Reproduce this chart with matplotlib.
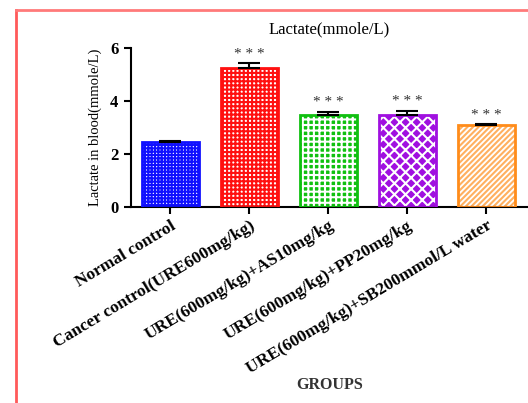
import matplotlib
matplotlib.use('Agg')
import matplotlib.pyplot as plt
from matplotlib.lines import Line2D

# lactate in blood (mmole/L), mean and SEM per group
groups = ["Normal control",
          "Cancer control(URE600mg/kg)",
          "URE(600mg/kg)+AS10mg/kg",
          "URE(600mg/kg)+PP20mg/kg",
          "URE(600mg/kg)+SB200mmol/L water"]
means = [2.43, 5.22, 3.45, 3.46, 3.07]
sems = [0.03, 0.18, 0.13, 0.15, 0.04]
signif = ["", "***", "***", "***", "***"]

colors = ["#1010ff", "#ff1010", "#10c010", "#a010e0", "#ff8c1a"]
faces = ["white", "white", "#10c010", "#a010e0", "white"]
hatches = ["+++++", "++++", "+++", "xxx", "//////"]
hatch_cols = ["#1010ff", "#ff1010", "white", "white", "#ffb060"]

plt.rcParams['font.family'] = ['Liberation Serif', 'DejaVu Serif']
plt.rcParams['hatch.linewidth'] = 1.5

fig = plt.figure(figsize=(5.28, 4.03), dpi=100)
ax = fig.add_axes([0.248, 0.487, 0.752, 0.395])

x = list(range(len(groups)))
for i in x:
    # hatch fill first, then a solid outline on top
    ax.bar(i, means[i], width=0.72, color=faces[i], edgecolor=hatch_cols[i],
           hatch=hatches[i], linewidth=0, zorder=2)
    ax.bar(i, means[i], width=0.72, fill=False, edgecolor=colors[i],
           linewidth=2, zorder=3)
ax.errorbar(x, means, yerr=[[0] * len(sems), sems], fmt='none', ecolor='black',
            elinewidth=1.5, capsize=8, capthick=1.5, zorder=4)

for i in x:
    if signif[i]:
        ax.text(i, means[i] + sems[i] + 0.1, "* * *", ha='center', va='bottom',
                fontsize=11, color='#333333')

ax.set_xlim(-0.5, 4.53)
ax.set_ylim(0, 6)
ax.set_yticks([0, 2, 4, 6])
ax.set_yticklabels(["0", "2", "4", "6"], fontsize=12, fontweight='bold')
ax.set_xticks(x)
ax.set_xticklabels(groups, rotation=31, ha='right', rotation_mode='anchor',
                   fontsize=12.5, fontweight='bold')
ax.tick_params(axis='y', length=5, width=1.5, pad=4)
ax.tick_params(axis='x', length=5, width=1.5, pad=3)
for s in ['top', 'right']:
    ax.spines[s].set_visible(False)
for s in ['left', 'bottom']:
    ax.spines[s].set_linewidth(1.5)

ax.set_ylabel("Lactate in blood(mmole/L)", fontsize=10.5, labelpad=6)
ax.set_title("Lactate(mmole/L)", fontsize=12, pad=10)
fig.text(0.625, 0.045, "GROUPS", ha='center', va='center', fontsize=11.5,
         fontweight='bold', color='#333333')

# red frame around the panel
fig.add_artist(Line2D([0.030, 0.030], [0.0, 0.975], color='#ff5a5a', lw=2))
fig.add_artist(Line2D([0.030, 1.0], [0.975, 0.975], color='#ff7a7a', lw=2))

fig.savefig("out.png", dpi=100)
